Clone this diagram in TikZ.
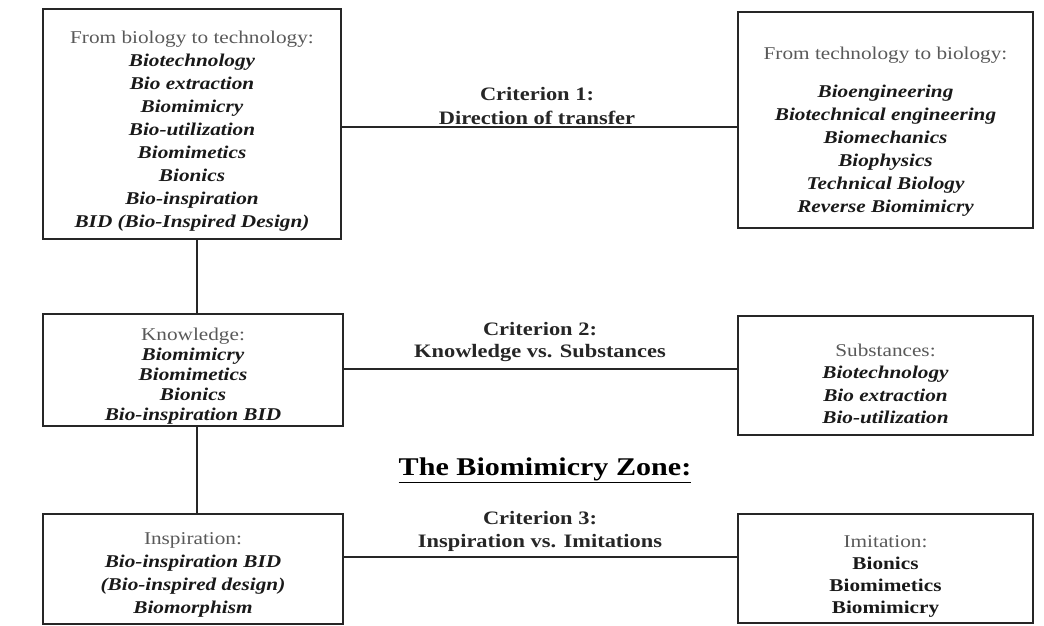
\documentclass[tikz,border=0pt]{standalone}
\usepackage{fontspec}
\setmainfont{Liberation Serif}[FakeStretch=1.18]
\begin{document}
\begin{tikzpicture}[x=1pt,y=-1pt,
  box/.style={draw=black!85, line width=2.4pt, rectangle, inner sep=0pt},
  link/.style={draw=black!85, line width=2.2pt},
  list/.style={align=center, font=\fontsize{18}{23}\selectfont\bfseries\itshape, text=black!90, inner sep=0pt},
  crit/.style={align=center, font=\fontsize{19}{24}\selectfont\bfseries, text=black!85, inner sep=0pt}]
\useasboundingbox (0,0) rectangle (1044,626);

% frames
\node[box, minimum width=298, minimum height=230] (bt) at (192,124) {};
\node[box, minimum width=295, minimum height=216] (tb) at (885.5,120) {};
\node[box, minimum width=300, minimum height=112] (kn) at (193,370) {};
\node[box, minimum width=295, minimum height=119] (su) at (885.5,375.5) {};
\node[box, minimum width=300, minimum height=110] (in) at (193,569) {};
\node[box, minimum width=295, minimum height=109] (im) at (885.5,568.5) {};

% connectors
\draw[link] (bt.east |- 0,127) -- (tb.west |- 0,127);
\draw[link] (kn.east |- 0,369) -- (su.west |- 0,369);
\draw[link] (in.east |- 0,557) -- (im.west |- 0,557);
\draw[link] (bt.south -| 197,0) -- (kn.north -| 197,0);
\draw[link] (kn.south -| 197,0) -- (in.north -| 197,0);

% box contents
\node[list] (btt) at (192,131) {{\mdseries\upshape\color{black!65}From biology to technology:}\\
  Biotechnology\\ Bio extraction\\ Biomimicry\\ Bio-utilization\\ Biomimetics\\ Bionics\\ Bio-inspiration\\ BID (Bio-Inspired Design)};
\node[list] (tbt) at (885.5,132) {{\mdseries\upshape\color{black!65}From technology to biology:}\\[15pt]
  Bioengineering\\ Biotechnical engineering\\ Biomechanics\\ Biophysics\\ Technical Biology\\ Reverse Biomimicry};
\node[list, font=\fontsize{18}{20}\selectfont\bfseries\itshape] (knt) at (193,376) {{\mdseries\upshape\color{black!65}Knowledge:}\\
  Biomimicry\\ Biomimetics\\ Bionics\\ Bio-inspiration BID};
\node[list, font=\fontsize{18}{22.3}\selectfont\bfseries\itshape] (sut) at (885.5,384) {{\mdseries\upshape\color{black!65}Substances:}\\
  Biotechnology\\ Bio extraction\\ Bio-utilization};
\node[list, font=\fontsize{18}{22.7}\selectfont\bfseries\itshape] (int) at (193,575) {{\mdseries\upshape\color{black!65}Inspiration:}\\
  Bio-inspiration BID\\ (Bio-inspired design)\\ Biomorphism};
\node[list, font=\fontsize{18}{22}\selectfont\bfseries\upshape] (imt) at (885.5,576) {{\mdseries\color{black!65}Imitation:}\\
  Bionics\\ Biomimetics\\ Biomimicry};

% criteria labels
\node[crit] (c1) at (537,106) {Criterion 1:\\ Direction of transfer};
\node[crit, font=\fontsize{19}{21.5}\selectfont\bfseries] (c2) at (540,342) {Criterion 2:\\ Knowledge vs. Substances};
\node[crit, font=\fontsize{25.5}{30}\selectfont\bfseries, text=black] (zone) at (545,470) {\underline{The Biomimicry Zone:}};
\node[crit, font=\fontsize{19}{23}\selectfont\bfseries] (c3) at (540,531) {Criterion 3:\\ Inspiration vs. Imitations};
\end{tikzpicture}
\end{document}
